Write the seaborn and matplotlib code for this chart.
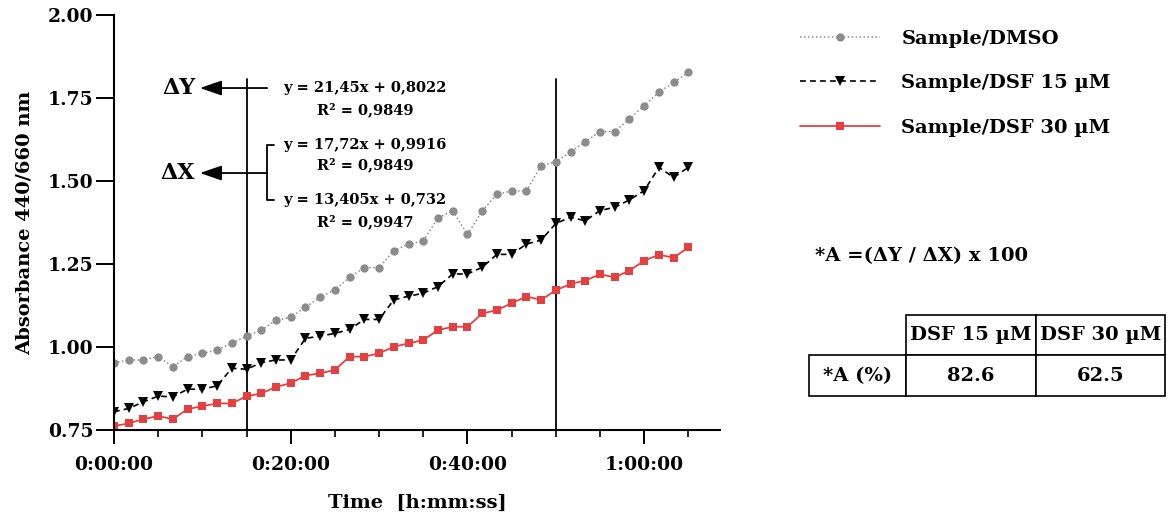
import matplotlib
matplotlib.use("Agg")
import matplotlib.pyplot as plt
import matplotlib.ticker as mticker
import numpy as np
import pandas as pd
import seaborn as sns

# Sampling times (seconds) of the kinetic read
time_s = [0, 100, 200, 300, 400, 500, 600, 700, 800, 900,
          1000, 1100, 1200, 1300, 1400, 1500, 1600, 1700, 1800, 1900,
          2000, 2100, 2200, 2300, 2400, 2500, 2600, 2700, 2800, 2900,
          3000, 3100, 3200, 3300, 3400, 3500, 3600, 3700, 3800, 3900]

# Absorbance 440/660 nm for each condition
dmso = [0.953, 0.961, 0.961, 0.971, 0.941, 0.971, 0.981, 0.991, 1.011, 1.033,
        1.050, 1.081, 1.089, 1.120, 1.150, 1.172, 1.210, 1.239, 1.239, 1.290,
        1.310, 1.319, 1.389, 1.410, 1.339, 1.410, 1.460, 1.470, 1.470, 1.546,
        1.558, 1.588, 1.618, 1.649, 1.649, 1.687, 1.727, 1.767, 1.797, 1.827]
dsf15 = [0.805, 0.815, 0.835, 0.852, 0.850, 0.873, 0.873, 0.883, 0.936, 0.933,
         0.953, 0.961, 0.961, 1.026, 1.033, 1.041, 1.053, 1.083, 1.083, 1.142,
         1.153, 1.162, 1.182, 1.220, 1.220, 1.240, 1.279, 1.279, 1.310, 1.322,
         1.372, 1.391, 1.380, 1.411, 1.421, 1.443, 1.471, 1.541, 1.511, 1.541]
dsf30 = [0.762, 0.770, 0.783, 0.792, 0.783, 0.813, 0.822, 0.830, 0.830, 0.852,
         0.860, 0.880, 0.891, 0.914, 0.921, 0.931, 0.971, 0.971, 0.981, 1.001,
         1.011, 1.021, 1.051, 1.061, 1.061, 1.101, 1.111, 1.132, 1.152, 1.142,
         1.171, 1.190, 1.200, 1.219, 1.210, 1.230, 1.260, 1.278, 1.269, 1.300]

series_labels = ["Sample/DMSO", "Sample/DSF 15 µM", "Sample/DSF 30 µM"]

# Linear fits shown next to the reference lines
fit_texts = [
    ("y = 21,45x + 0,8022", "R² = 0,9849"),
    ("y = 17,72x + 0,9916", "R² = 0,9849"),
    ("y = 13,405x + 0,732", "R² = 0,9947"),
]
window_s = [900, 3000]

table_cols = ["", "DSF 15 µM", "DSF 30 µM"]
table_row = ["*A (%)", "82.6", "62.5"]
formula = "*A =(ΔY / ΔX) x 100"

sns.set_theme(style="white")
plt.rcParams["font.family"] = ["DejaVu Serif"]
plt.rcParams["font.weight"] = "bold"
plt.rcParams["axes.labelweight"] = "bold"
plt.rcParams["text.color"] = "black"
plt.rcParams["axes.labelcolor"] = "black"
plt.rcParams["xtick.color"] = "black"
plt.rcParams["ytick.color"] = "black"

fig = plt.figure(figsize=(11.75, 5.22), dpi=100)
ax = fig.add_axes([0.0970, 0.1762, 0.6128 - 0.0970, 0.9713 - 0.1762])

df = pd.DataFrame({"t": time_s * 3,
                   "A": dmso + dsf15 + dsf30,
                   "cond": sum([[s] * len(time_s) for s in series_labels], [])})

styles = {
    series_labels[0]: dict(color="#8c8c8c", marker="o", markersize=6,
                           linestyle=(0, (1, 1.6)), linewidth=1.1),
    series_labels[1]: dict(color="black", marker="v", markersize=6.5,
                           linestyle=(0, (3.5, 2.5)), linewidth=1.2),
    series_labels[2]: dict(color="#e5403f", marker="s", markersize=6.3,
                           linestyle="-", linewidth=1.3),
}
for lab in series_labels:
    sub = df[df["cond"] == lab]
    st = styles[lab]
    sns.lineplot(data=sub, x="t", y="A", ax=ax, label=lab,
                 color=st["color"], marker=st["marker"],
                 markersize=st["markersize"], linestyle=st["linestyle"],
                 linewidth=st["linewidth"], markeredgewidth=0,
                 markeredgecolor=st["color"], estimator=None, sort=False)

ax.set_xlim(0, 4115)
ax.set_ylim(0.75, 2.0)
ax.xaxis.set_major_locator(mticker.MultipleLocator(1200))
ax.xaxis.set_minor_locator(mticker.MultipleLocator(300))
ax.yaxis.set_major_locator(mticker.MultipleLocator(0.25))


def hms(v, pos=None):
    v = int(round(v))
    return f"{v // 3600}:{(v % 3600) // 60:02d}:{v % 60:02d}"


ax.xaxis.set_major_formatter(mticker.FuncFormatter(hms))
ax.yaxis.set_major_formatter(mticker.FormatStrFormatter("%.2f"))
sns.despine(ax=ax)
for sp in ("left", "bottom"):
    ax.spines[sp].set_linewidth(1.5)
    ax.spines[sp].set_color("black")
ax.tick_params(axis="x", which="major", length=10, width=1.4, direction="out",
               labelsize=13.5, pad=9, bottom=True, colors="black")
ax.tick_params(axis="x", which="minor", length=5, width=1.2, direction="out",
               bottom=True, colors="black")
ax.tick_params(axis="y", which="major", length=13, width=1.4, direction="out",
               labelsize=13.5, pad=2, left=True, colors="black")
for lbl in ax.get_xticklabels() + ax.get_yticklabels():
    lbl.set_fontweight("bold")
ax.set_xlabel("Time  [h:mm:ss]", fontsize=14, labelpad=14, fontweight="bold")
ax.set_ylabel("Absorbance 440/660 nm", fontsize=14, labelpad=10, fontweight="bold")

# Reference lines at the start and end of the analysed window
for xv in window_s:
    ax.plot([xv, xv], [0.75, 1.807], color="black", lw=1.3, zorder=1)

arrow_kw = dict(arrowstyle="-|>,head_length=1.1,head_width=0.38",
                color="black", lw=1.3, shrinkA=0, shrinkB=0)
ax.annotate("", xy=(584, 1.780), xytext=(1040, 1.780), arrowprops=arrow_kw)
ax.annotate("", xy=(584, 1.524), xytext=(1037, 1.524), arrowprops=arrow_kw)
ax.plot([1087, 1037, 1037, 1087], [1.608, 1.608, 1.443, 1.443],
        color="black", lw=1.3)
ax.text(550, 1.780, "ΔY", ha="right", va="center", fontsize=16, fontweight="bold")
ax.text(550, 1.524, "ΔX", ha="right", va="center", fontsize=16, fontweight="bold")

eq_y = [(1.780, 1.714), (1.608, 1.548), (1.443, 1.377)]
for (eq, r2), (y1, y2) in zip(fit_texts, eq_y):
    ax.text(1706, y1, eq, ha="center", va="center", fontsize=10.5, fontweight="bold")
    ax.text(1706, y2, r2, ha="center", va="center", fontsize=10.5, fontweight="bold")

leg = ax.legend(loc="upper left", bbox_to_anchor=(0.681, 0.9425),
                bbox_transform=fig.transFigure, frameon=False, fontsize=14,
                handlelength=4.1, handletextpad=1.1, labelspacing=1.35,
                borderpad=0, borderaxespad=0, numpoints=1)
for t in leg.get_texts():
    t.set_fontweight("bold")
    t.set_color("black")

fig.text(0.6936, 0.5096, formula, ha="left", va="center", fontsize=14,
         fontweight="bold")

tax = fig.add_axes([0.6885, 0.2414, 0.9915 - 0.6885, 0.3966 - 0.2414])
tax.axis("off")
tbl = tax.table(cellText=[table_cols, table_row], cellLoc="center",
                colWidths=[97, 130, 129], bbox=[0, 0, 1, 1])
tbl.auto_set_font_size(False)
for (r, c), cell in tbl.get_celld().items():
    cell.set_fontsize(14)
    cell.get_text().set_fontweight("bold")
    cell.get_text().set_color("black")
    cell.set_linewidth(1.2)
    cell.set_edgecolor("black")
    if r == 0 and c == 0:
        cell.set_edgecolor("none")

fig.savefig("out.png", dpi=100)
